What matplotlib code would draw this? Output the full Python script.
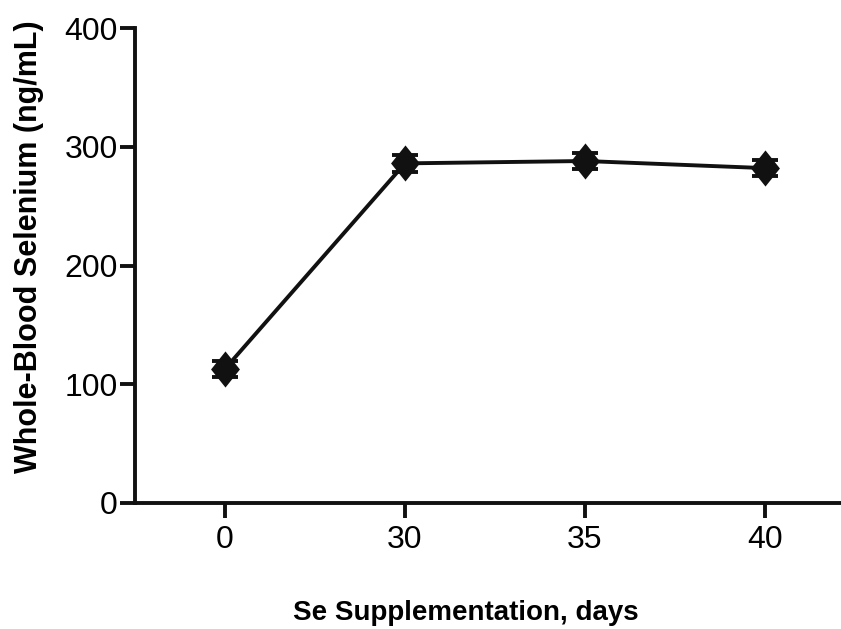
import matplotlib
matplotlib.use("Agg")
import matplotlib.pyplot as plt

days = ["0", "30", "35", "40"]
selenium = [113, 286, 288, 282]
sem = [7, 7, 7, 7]

plt.rcParams['font.family'] = ['Liberation Sans', 'DejaVu Sans']

fig = plt.figure(figsize=(8.41, 6.29), dpi=100)
ax = fig.add_axes([135/841, 1-503/629, 1-135/841, (503-28)/629])

x = list(range(len(days)))
col = '#111111'
ax.errorbar(x, selenium, yerr=sem, fmt='none', ecolor=col, elinewidth=2.8,
            capsize=9.5, capthick=2.8, zorder=3, clip_on=False)
diamond = [(0, 1), (0.8, 0), (0, -1), (-0.8, 0), (0, 1)]
ax.plot(x, selenium, color=col, lw=2.8, marker=diamond, ms=26, mew=0,
        mfc=col, zorder=4, clip_on=False)

ax.set_xlim(-0.5, (841-225)/180)
ax.set_ylim(0, 400)
ax.set_yticks([0, 100, 200, 300, 400])
ax.set_xticks(x)
ax.set_xticklabels(days)

for s in ['top', 'right']:
    ax.spines[s].set_visible(False)
for s in ['left', 'bottom']:
    ax.spines[s].set_linewidth(2.8)
    ax.spines[s].set_color(col)

ax.tick_params(axis='y', length=10.5, width=2.8, color=col, labelsize=23, pad=2)
ax.tick_params(axis='x', length=10.5, width=2.8, color=col, labelsize=23, pad=5)

ax.set_xlabel("Se Supplementation, days", fontsize=20, fontweight='bold')
ax.set_ylabel("Whole-Blood Selenium (ng/mL)", fontsize=22, fontweight='bold')
ax.xaxis.set_label_coords((466-135)/706, -0.204)
ax.yaxis.set_label_coords((44-135)/706, (503-247)/475)

fig.savefig("out.png", dpi=100)
